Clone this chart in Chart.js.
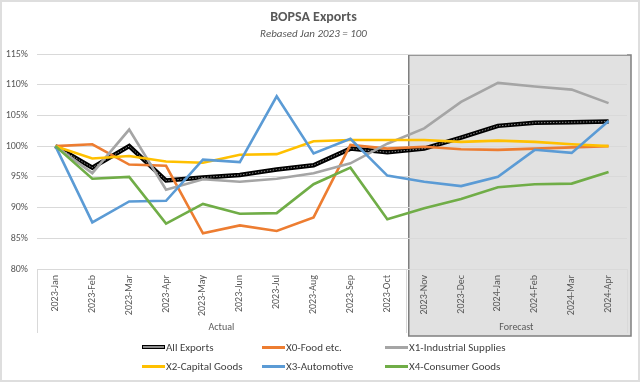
<!DOCTYPE html>
<html>
<head>
<meta charset="utf-8">
<script src="https://cdn.jsdelivr.net/npm/chart.js@4"></script>
<style>
  body { margin: 0; background: #fff; }
  #wrap { position: relative; width: 640px; height: 382px; }
  #legend {
    position: absolute; left: 0; top: 338px; width: 640px;
    font: 11px Carlito, Calibri, Lato, sans-serif; color: #404040;
  }
  .item { position: absolute; display: flex; align-items: center; height: 14px; white-space: nowrap; }
  .sw { display: inline-block; width: 23px; height: 3px; margin-right: 1px; }
</style>
</head>
<body>
<div id="wrap">
  <canvas id="chartbox" width="640" height="382"></canvas>
  <div id="legend"></div>
</div>
<script>
// chart data
const months = ['2023-Jan', '2023-Feb', '2023-Mar', '2023-Apr', '2023-May', '2023-Jun', '2023-Jul', '2023-Aug',
  '2023-Sep', '2023-Oct', '2023-Nov', '2023-Dec', '2024-Jan', '2024-Feb', '2024-Mar', '2024-Apr']
const groups = ['Actual', 'Forecast']
const forecastStart = 10

const allExports = [100, 96.5, 100, 94.4, 94.9, 95.3, 96.2, 96.9, 99.6, 99.0, 99.6, 101.4, 103.3, 103.8, 103.9, 104.0]
const food = [100, 100.3, 97.0, 96.8, 85.8, 87.1, 86.2, 88.4, 100.2, 99.6, 99.9, 99.5, 99.4, 99.6, 99.8, 100.0]
const industrial = [100, 95.6, 102.7, 92.9, 94.6, 94.2, 94.7, 95.6, 97.2, 100.4, 102.9, 107.2, 110.3, 109.7, 109.2, 107.0]
const capital = [100, 98.0, 98.4, 97.5, 97.3, 98.6, 98.7, 100.8, 101.0, 101.0, 101.0, 100.7, 100.9, 100.7, 100.3, 100.0]
const automotive = [100, 87.6, 91.0, 91.1, 97.8, 97.4, 108.1, 98.8, 101.2, 95.2, 94.2, 93.5, 95.0, 99.4, 98.9, 104.1]
const consumer = [100, 94.7, 95.0, 87.4, 90.6, 89.0, 89.1, 93.8, 96.5, 88.1, 89.9, 91.4, 93.3, 93.8, 93.9, 95.8]

const yTicks = [80, 85, 90, 95, 100, 105, 110, 115]

const series = [
  { name: 'All Exports', data: allExports, color: '#000000' },
  { name: 'X0-Food etc.', data: food, color: '#ED7D31' },
  { name: 'X1-Industrial Supplies', data: industrial, color: '#A5A5A5' },
  { name: 'X2-Capital Goods', data: capital, color: '#FFC000' },
  { name: 'X3-Automotive', data: automotive, color: '#5B9BD5' },
  { name: 'X4-Consumer Goods', data: consumer, color: '#70AD47' }
]

const FONT = "Carlito, Calibri, Lato, sans-serif"
const GREY = '#595959'

// gray forecast box, multi-level axis lines, group labels, frame
const decorations = {
  id: 'decorations',
  beforeDraw(chart) {
    const { ctx, scales: { x, y } } = chart
    const left = x.getPixelForValue(forecastStart - 0.5) + 3
    const right = x.right + 4
    const top = y.top + 1
    const bottom = x.bottom
    ctx.save()
    ctx.fillStyle = '#e1e1e1'
    ctx.fillRect(left, top, right - left, bottom - top)
    ctx.strokeStyle = '#7f7f7f'
    ctx.lineWidth = 1.5
    ctx.strokeRect(left, top, right - left, bottom - top)
    ctx.restore()
  },
  afterDraw(chart) {
    const { ctx, scales: { x, y } } = chart
    ctx.save()
    ctx.strokeStyle = '#d9d9d9'
    ctx.lineWidth = 1
    const seps = [x.left, x.getPixelForValue(forecastStart - 0.5), x.right]
    seps.forEach(px => {
      ctx.beginPath()
      ctx.moveTo(Math.round(px) + 0.5, y.bottom)
      ctx.lineTo(Math.round(px) + 0.5, x.bottom - 3)
      ctx.stroke()
    })
    ctx.fillStyle = GREY
    ctx.font = '10px ' + FONT
    ctx.textAlign = 'center'
    ctx.textBaseline = 'middle'
    ctx.fillText(groups[0], (seps[0] + seps[1]) / 2, x.bottom - 9)
    ctx.fillText(groups[1], (seps[1] + seps[2]) / 2, x.bottom - 9)
    ctx.strokeStyle = '#dedede'
    ctx.lineWidth = 2
    ctx.strokeRect(1, 1, chart.width - 2, chart.height - 2)
    ctx.restore()
  }
}

const datasets = series.map((s, i) => ({
  label: s.name,
  data: s.data,
  borderColor: s.color,
  backgroundColor: s.color,
  borderWidth: i === 0 ? 4.5 : 2.6,
  pointRadius: 0,
  tension: 0,
  order: 10 - i * 1.5
}))
// inner stripe of the double "All Exports" line
datasets.push({
  label: 'inner',
  data: allExports,
  borderColor: '#8c8c8c',
  borderWidth: 1,
  borderDash: [1.5, 1.5],
  pointRadius: 0,
  tension: 0,
  order: 9.5
})

const myChart = new Chart(document.querySelector('#chartbox'), {
  type: 'line',
  data: { labels: months, datasets },
  options: {
    responsive: false,
    animation: false,
    layout: { padding: { left: 0, right: 13, bottom: 46 } },
    plugins: {
      legend: { display: false },
      tooltip: { enabled: false },
      title: {
        display: true,
        text: 'BOPSA Exports',
        color: GREY,
        font: { family: FONT, size: 14, weight: 'bold' },
        padding: { top: 9, bottom: 2 }
      },
      subtitle: {
        display: true,
        text: 'Rebased Jan 2023 = 100',
        color: GREY,
        font: { family: FONT, size: 11, style: 'italic' },
        padding: { top: 0, bottom: 13 }
      }
    },
    scales: {
      x: {
        offset: true,
        grid: { display: false, drawTicks: false },
        border: { display: false },
        ticks: {
          color: GREY,
          font: { family: FONT, size: 10 },
          maxRotation: 90,
          minRotation: 90,
          autoSkip: false,
          padding: 6
        },
        afterFit(scale) { scale.height = 67 }
      },
      y: {
        min: 80,
        max: 115,
        afterBuildTicks(scale) { scale.ticks = yTicks.map(v => ({ value: v })) },
        grid: { color: '#d9d9d9', drawTicks: false },
        border: { display: false },
        ticks: {
          color: GREY,
          font: { family: FONT, size: 10 },
          padding: 9,
          callback: v => v + '%'
        },
        afterFit(scale) { scale.width = 37 }
      }
    }
  },
  plugins: [decorations]
})

// legend laid out in Excel-style columns
const legend = document.querySelector('#legend')
const colX = [142, 262, 385]
const rowY = [2, 21]
series.forEach((s, i) => {
  const item = document.createElement('div')
  item.className = 'item'
  item.style.left = colX[i % 3] + 'px'
  item.style.top = rowY[Math.floor(i / 3)] + 'px'
  const sw = document.createElement('span')
  sw.className = 'sw'
  if (i === 0) {
    sw.style.height = '2px'
    sw.style.background = '#8c8c8c'
    sw.style.border = '1px solid #000'
    sw.style.width = '21px'
  } else {
    sw.style.background = s.color
  }
  item.appendChild(sw)
  item.appendChild(document.createTextNode(s.name))
  legend.appendChild(item)
})
</script>
</body>
</html>
